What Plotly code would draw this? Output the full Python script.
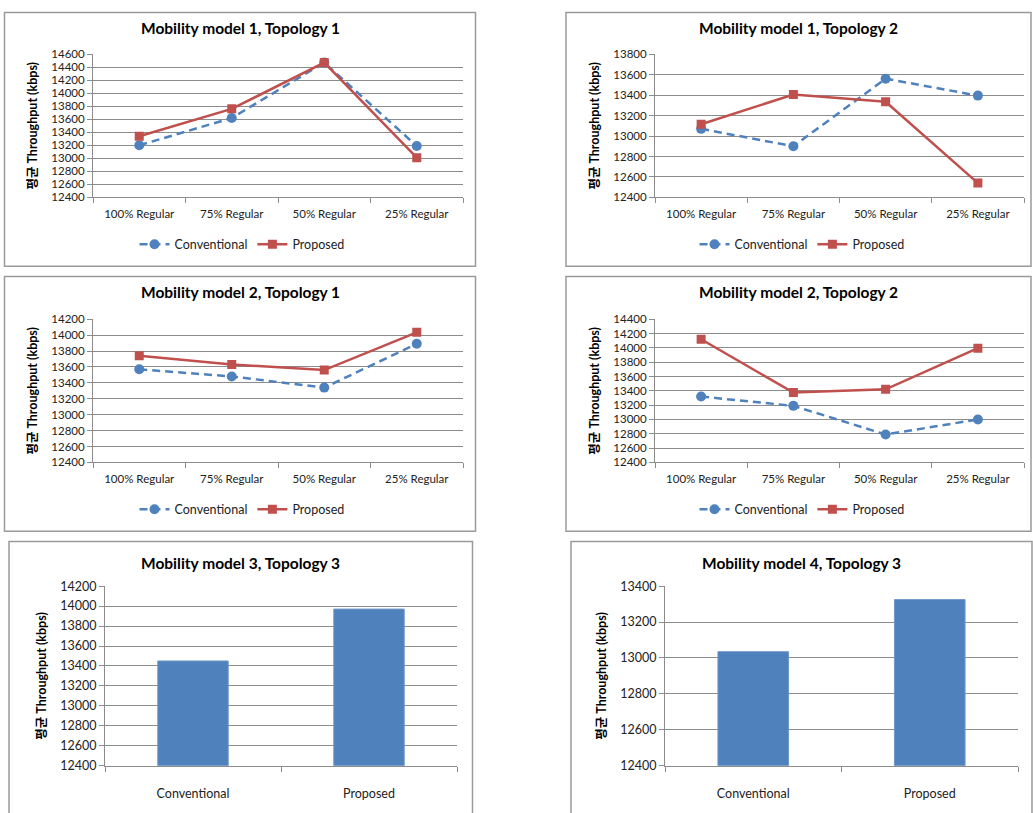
import plotly.graph_objects as go

W, H = 1033, 813

# Line-chart categories and throughput series (kbps)
regular_cats = ["100% Regular", "75% Regular", "50% Regular", "25% Regular"]

m1t1_conv = [13200, 13620, 14470, 13190]
m1t1_prop = [13340, 13760, 14470, 13010]

m1t2_conv = [13070, 12900, 13560, 13395]
m1t2_prop = [13115, 13405, 13335, 12540]

m2t1_conv = [13570, 13480, 13340, 13890]
m2t1_prop = [13740, 13630, 13560, 14035]

m2t2_conv = [13320, 13190, 12790, 13000]
m2t2_prop = [14120, 13375, 13420, 13995]

# Bar-chart categories and values (kbps)
bar_cats = ["Conventional", "Proposed"]
m3t3_vals = [13450, 13970]
m4t3_vals = [13035, 13325]

titles = [
    "Mobility model 1, Topology 1",
    "Mobility model 1, Topology 2",
    "Mobility model 2, Topology 1",
    "Mobility model 2, Topology 2",
    "Mobility model 3, Topology 3",
    "Mobility model 4, Topology 3",
]
y_title = "평균 Throughput (kbps)"

BLUE = "#4F81BD"
RED = "#C0504D"
GRID = "#8C8C8C"
BORDER = "#9A9A9A"
FONT = "Lato, 'Noto Sans CJK KR', sans-serif"

# plot areas in pixels: (left, right, top, bottom)
areas = [
    (93, 463, 47, 193),
    (655, 1024, 47, 193),
    (93, 463, 317, 463),
    (655, 1024, 317, 463),
    (105, 457, 589, 772),
    (665, 1018, 589, 772),
]
# panel frames in pixels: (left, right, top, bottom)
frames = [
    (4.5, 475.5, 4.5, 263),
    (566, 1031, 4.5, 263),
    (4.5, 475.5, 273.5, 533),
    (566, 1031, 273.5, 533),
    (9, 472.5, 543.5, 830),
    (571, 1032, 543.5, 830),
]
y_ranges = [
    (12400, 14600),
    (12400, 13800),
    (12400, 14200),
    (12400, 14400),
    (12400, 14200),
    (12400, 13400),
]
line_data = [
    (m1t1_conv, m1t1_prop),
    (m1t2_conv, m1t2_prop),
    (m2t1_conv, m2t1_prop),
    (m2t2_conv, m2t2_prop),
]


def px_x(v):
    return v / W


def px_y(v):
    return 1 - v / H


fig = go.Figure()
layout = dict(
    width=W,
    height=H,
    margin=dict(l=0, r=0, t=0, b=0),
    paper_bgcolor="white",
    plot_bgcolor="white",
    font=dict(family=FONT, color="#000000", size=12),
    shapes=[],
    annotations=[],
)

for i in range(6):
    n = i + 1
    xa = "x" if n == 1 else f"x{n}"
    ya = "y" if n == 1 else f"y{n}"
    l, r, t, b = areas[i]
    lo, hi = y_ranges[i]
    is_bar = i >= 4
    cats = bar_cats if is_bar else regular_cats

    layout["xaxis" if n == 1 else f"xaxis{n}"] = dict(
        domain=[px_x(l), px_x(r)],
        anchor=ya,
        type="category",
        categoryorder="array",
        categoryarray=cats,
        range=[-0.5, len(cats) - 0.5],
        tickson="boundaries",
        ticks="outside",
        ticklen=5,
        tickcolor=GRID,
        showline=True,
        linecolor=GRID,
        linewidth=1,
        showgrid=False,
        ticklabelstandoff=16 if is_bar else 6,
        tickfont=dict(size=12.5 if is_bar else 11.5, color="#222222"),
        fixedrange=True,
    )
    layout["yaxis" if n == 1 else f"yaxis{n}"] = dict(
        domain=[px_y(b), px_y(t)],
        anchor=xa,
        range=[lo, hi],
        dtick=200,
        tickformat="d",
        ticks="outside",
        ticklen=5,
        tickcolor=GRID,
        showline=True,
        linecolor=GRID,
        linewidth=1,
        showgrid=True,
        gridcolor=GRID,
        gridwidth=1,
        zeroline=False,
        tickfont=dict(size=12.5 if is_bar else 11.5, color="#222222"),
        title=dict(text=y_title, font=dict(size=12.5, color="#000000",
                                           weight="bold"), standoff=10),
        fixedrange=True,
    )

    # panel title
    fl, fr, ft, fb = frames[i]
    layout["annotations"].append(dict(
        text=f"<b>{titles[i]}</b>",
        xref="paper", yref="paper",
        x=px_x((fl + fr) / 2), y=px_y(ft + (16 if not is_bar else 22)),
        xanchor="center", yanchor="middle",
        showarrow=False,
        font=dict(size=15.5, color="#000000"),
    ))
    # panel frame
    layout["shapes"].append(dict(
        type="rect", xref="paper", yref="paper",
        x0=px_x(fl), x1=px_x(fr), y0=px_y(fb), y1=px_y(ft),
        line=dict(color=BORDER, width=1.5),
        fillcolor="rgba(0,0,0,0)",
        layer="below",
    ))

    if is_bar:
        vals = m3t3_vals if i == 4 else m4t3_vals
        fig.add_trace(go.Bar(
            x=bar_cats, y=vals, base=0,
            marker=dict(color=BLUE, line=dict(color="#6F97C9", width=1)),
            width=0.4,
            xaxis=xa, yaxis=ya,
            showlegend=False,
            hoverinfo="x+y",
        ))
    else:
        conv, prop = line_data[i]
        leg = "legend" if n == 1 else f"legend{n}"
        fig.add_trace(go.Scatter(
            x=regular_cats, y=conv, name="Conventional",
            mode="lines+markers",
            line=dict(color=BLUE, width=2.5, dash="8px,5px"),
            marker=dict(symbol="circle", size=10, color=BLUE),
            xaxis=xa, yaxis=ya, legend=leg,
        ))
        fig.add_trace(go.Scatter(
            x=regular_cats, y=prop, name="Proposed",
            mode="lines+markers",
            line=dict(color=RED, width=2.5),
            marker=dict(symbol="square", size=9, color=RED),
            xaxis=xa, yaxis=ya, legend=leg,
        ))
        legend_y = 241 if i < 2 else 511
        legend_x = 242 if i % 2 == 0 else 802
        layout[leg] = dict(
            orientation="h",
            x=px_x(legend_x), y=px_y(legend_y),
            xanchor="center", yanchor="middle",
            bgcolor="rgba(0,0,0,0)",
            font=dict(size=12.5, color="#222222"),
            itemwidth=30,
            tracegroupgap=0,
        )

fig.update_layout(**layout)
fig.write_html("out.html")
